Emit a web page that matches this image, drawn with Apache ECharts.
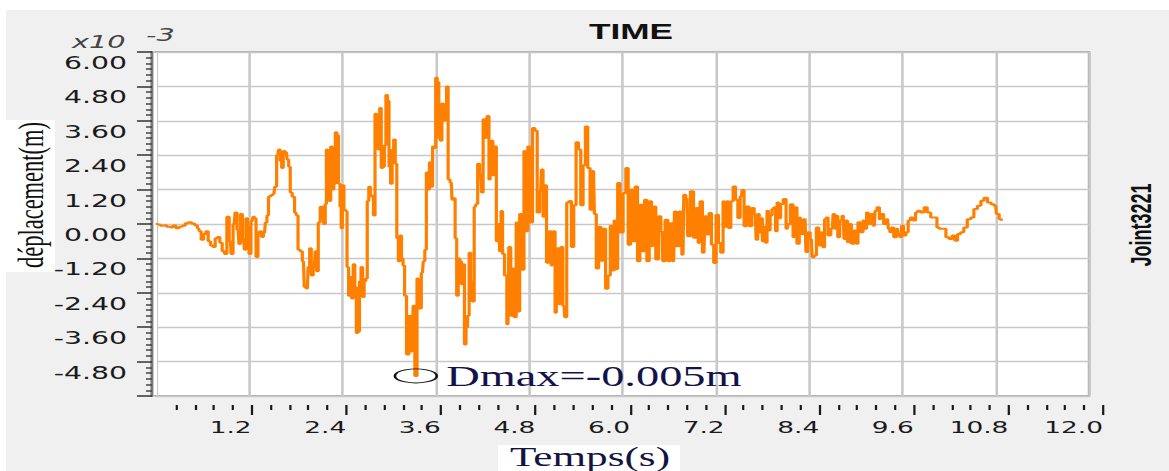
<!DOCTYPE html>
<html>
<head>
<meta charset="utf-8">
<script src="https://cdn.jsdelivr.net/npm/echarts@6/dist/echarts.min.js"></script>
<style>
  html, body { margin: 0; padding: 0; background: #ffffff; }
  /* the plot window is drawn narrow and widened horizontally */
  #chart { width: 730.625px; height: 471px; transform: scaleX(1.6); transform-origin: 0 0; }
</style>
</head>
<body>
<div id="chart"></div>
<script>
// Joint 3221 displacement history, time in seconds, displacement in 1e-3 m
const timeS = [
  0.00,0.04,0.08,0.12,0.16,0.20,0.24,0.28,0.32,0.36,0.40,0.44,0.48,0.52,0.55,
  0.57,0.60,0.63,0.66,0.69,0.72,0.75,0.78,0.81,0.84,0.87,0.90,0.93,0.96,0.98,
  1.01,1.03,1.06,1.08,1.10,1.13,1.15,1.17,1.19,1.21,1.24,1.26,1.28,1.30,1.33,1.35,1.37,1.40,1.42,
  1.44,1.46,1.49,1.52,1.54,1.57,1.59,1.61,1.63,1.65,1.68,1.70,1.72,1.74,1.77,1.80,1.82,
  1.84,1.87,1.90,1.92,1.95,1.97,1.99,2.01,2.04,2.06,2.08,2.10,2.13,2.15,2.17,2.19,
  2.20,2.22,2.24,2.26,2.28,2.30,2.32,2.34,2.36,2.38,2.39,2.41,2.43,2.45,
  2.47,2.49,2.51,2.53,2.55,2.57,2.59,2.61,2.63,2.65,2.67,2.69,2.71,
  2.73,2.75,2.77,2.79,2.81,2.83,2.85,2.87,2.89,2.91,2.93,2.95,2.97,2.99,3.01,3.03,3.05,3.07,3.09,
  3.11,3.13,3.15,3.17,3.19,3.21,3.24,3.27,3.30,3.32,3.345,3.375,3.40,3.43,3.45,3.47,
  3.49,3.51,3.53,3.55,3.57,3.59,3.61,3.63,3.65,3.67,3.69,3.71,3.73,3.75,3.77,3.80,3.82,3.84,3.86,3.88,3.90,3.92,
  3.94,3.96,3.98,4.00,4.02,4.04,4.06,4.08,4.11,4.13,4.15,4.18,4.20,4.22,4.25,4.27,4.30,4.32,4.35,4.37,
  4.39,4.41,4.43,4.45,4.47,4.50,4.53,4.55,4.58,4.60,4.62,4.65,4.67,4.69,4.72,4.75,4.77,4.80,4.83,
  4.86,4.89,4.92,4.95,4.97,4.99,5.01,5.04,5.07,5.10,5.12,5.15,5.17,5.20,5.22,5.25,5.27,
  5.30,5.33,5.36,5.39,5.42,5.45,5.48,5.51,5.54,5.57,5.60,5.63,5.65,5.68,5.71,
  5.74,5.77,5.80,5.83,5.86,5.88,5.91,5.93,5.95,5.99,6.03,6.06,6.09,6.12,6.15,6.18,6.21,6.24,6.27,
  6.30,6.33,6.36,6.39,6.41,6.45,6.48,6.51,6.53,6.57,6.60,6.63,6.66,6.68,6.71,6.75,6.78,6.80,
  6.83,6.85,6.90,6.93,6.96,6.99,7.01,7.05,7.07,7.10,7.13,7.16,7.19,7.22,7.25,7.28,7.31,
  7.33,7.35,7.38,7.41,7.44,7.47,7.50,7.53,7.55,7.58,7.61,7.65,7.68,
  7.71,7.73,7.75,7.77,7.79,7.81,7.83,7.85,7.87,7.89,7.91,7.94,7.96,7.98,8.00,8.02,8.05,8.09,
  8.12,8.14,8.18,8.21,8.23,8.26,8.29,8.31,8.35,8.37,8.40,8.43,8.45,8.48,8.51,
  8.54,8.57,8.59,8.61,8.63,8.66,8.70,8.72,8.74,8.76,8.78,8.81,8.84,8.86,8.88,8.91,8.93,8.96,
  9.00,9.02,9.04,9.08,9.11,9.13,9.15,9.17,9.21,9.24,9.26,9.29,9.32,9.34,9.38,9.41,9.43,9.45,9.47,
  9.51,9.54,9.56,9.58,9.60,9.63,9.66,9.69,9.72,9.75,9.79,9.81,9.86,9.90,9.94,9.99,
  10.03,10.06,10.09,10.14,10.18,10.22,10.26,10.29,10.33,10.37,10.41,10.46,10.50,10.54,10.59,10.63,10.67,10.72,10.76,10.80,10.82,10.87,10.89
];

const dispMm = [
  0.00,-0.02,-0.06,-0.04,-0.10,-0.12,-0.05,-0.15,-0.10,-0.06,0.03,0.06,0.02,-0.04,-0.15,
  -0.25,-0.55,-0.35,-0.25,-0.60,-0.75,-0.80,-0.50,-0.45,-0.65,-0.95,-1.05,0.25,-0.60,-1.05,
  0.00,0.40,-0.20,-0.70,0.35,-0.50,-0.90,0.20,-0.10,-1.05,0.10,0.25,0.20,-1.15,-0.30,-0.25,-0.45,-0.30,0.05,
  0.30,0.95,1.00,1.05,1.30,2.40,2.60,2.20,1.95,2.55,2.50,2.25,2.00,1.10,0.95,0.40,0.30,
  -0.90,-0.95,-1.30,-2.20,-2.25,-1.50,-0.85,-1.80,-1.50,-0.95,-1.65,0.05,0.60,0.60,0.00,0.70,
  2.60,1.00,0.80,2.70,1.20,1.40,3.20,3.10,1.40,0.60,-0.15,1.35,0.50,0.45,
  -1.50,-2.50,-1.85,-2.60,-1.40,-2.20,-3.80,-3.75,-2.00,-1.50,-2.55,-2.00,-1.90,
  0.80,1.30,1.00,0.95,0.30,3.85,3.70,2.60,4.05,1.95,2.00,2.75,4.50,4.30,2.00,1.40,2.60,2.95,2.10,
  -0.50,-1.30,-0.40,-1.20,-1.45,-2.50,-4.55,-3.20,-4.45,-2.85,-5.30,-1.90,-2.95,-1.70,-1.30,-0.90,
  1.80,1.20,2.15,1.30,2.70,2.65,5.10,4.95,3.00,2.90,4.20,3.60,3.70,4.80,1.55,1.45,0.85,0.90,-0.50,-2.50,-1.20,-1.30,
  -2.10,-1.40,-4.20,-3.60,-3.20,-1.00,-2.00,-2.70,0.60,0.70,2.10,1.75,1.10,3.65,3.00,3.77,1.55,2.90,1.70,2.70,
  -0.60,0.00,-0.95,0.45,-1.05,-1.80,-3.50,-0.80,-3.20,-1.55,-3.25,0.05,-3.05,0.35,-1.60,2.55,-0.25,2.70,0.05,
  3.35,3.25,0.40,1.15,1.90,0.25,1.35,-1.35,-0.25,-1.45,-0.25,-3.10,-0.85,-2.80,-0.80,-2.85,-3.25,
  0.75,0.80,-0.80,0.65,2.85,2.60,0.65,2.05,3.40,1.95,0.50,1.85,0.35,-1.55,-0.10,
  -1.28,-0.17,-2.26,-1.80,-0.06,-1.62,0.12,-1.57,1.43,-0.30,1.08,1.95,-0.72,1.20,-0.60,1.31,-1.30,0.67,-0.95,
  0.85,-1.30,0.79,-0.78,0.61,-1.24,0.27,-0.25,-1.30,0.15,-1.30,0.03,-1.30,0.44,-0.78,0.44,-1.07,1.02,
  0.90,-0.43,1.14,-0.48,0.56,-0.66,0.79,-1.00,0.27,-0.37,0.38,-0.72,-1.36,0.32,-0.66,-1.00,0.79,
  -0.10,0.79,-0.14,0.79,1.31,0.85,0.21,0.96,1.19,-0.08,0.61,-0.08,0.56,
  0.35,-0.55,0.35,-0.30,0.20,-0.60,-0.10,-0.65,0.46,-0.23,0.30,0.52,0.58,-0.25,0.75,0.20,0.70,0.87,
  -0.17,0.00,0.69,-0.46,0.58,-0.69,0.23,-0.35,0.17,-0.98,-0.29,-0.52,-1.16,-1.10,-0.12,
  -0.75,-0.29,-0.81,0.17,0.23,-0.40,-0.17,0.35,-0.17,0.29,-0.46,0.12,0.29,-0.52,0.12,-0.64,0.00,-0.69,
  -0.23,-0.69,0.06,-0.29,0.12,-0.17,0.40,0.00,0.35,-0.06,0.46,0.58,0.17,0.35,0.00,0.17,-0.17,-0.29,-0.12,
  -0.46,-0.17,-0.40,-0.46,-0.06,-0.40,-0.29,0.12,0.23,0.12,0.40,0.46,0.40,0.58,0.40,0.23,
  0.23,-0.12,-0.17,-0.17,-0.46,-0.52,-0.40,-0.58,-0.35,-0.29,-0.12,0.17,0.23,0.52,0.64,0.81,0.92,0.75,0.69,0.64,0.35,0.17,0.12
];

// tick labels
const dispTicks = [-4.8, -3.6, -2.4, -1.2, 0, 1.2, 2.4, 3.6, 4.8, 6.0];
const timeTicks = [1.2, 2.4, 3.6, 4.8, 6.0, 7.2, 8.4, 9.6, 10.8, 12.0];

// horizontal stretch of the drawing (see #chart transform)
const SX = 1.6;
const px = v => v / SX;   // page x -> chart x

// page-space layout
const PLOT_L = 155.7, PLOT_R = 1089, PLOT_T = 52, PLOT_B = 396;
const AXIS_X = 152;
const RULER_L = 157, RULER_R = 1103, RULER_Y = 405;

const points = timeS.map((t, i) => [t, dispMm[i]]);
let iMin = 0;
dispMm.forEach((v, i) => { if (v < dispMm[iMin]) iMin = i; });
const dmaxText = 'Dmax=' + (dispMm[iMin] / 1000).toFixed(3) + 'm';

const chart = echarts.init(document.getElementById('chart'), null, { renderer: 'svg' });

chart.setOption({
  animation: false,
  backgroundColor: '#f0f0f0',
  grid: [
    { left: px(PLOT_L), width: px(PLOT_R - PLOT_L), top: PLOT_T, height: PLOT_B - PLOT_T,
      show: true, backgroundColor: '#ffffff', borderColor: '#9a9a9a', borderWidth: 1.5 },
    { left: px(RULER_L), width: px(RULER_R - RULER_L), top: RULER_Y - 1, height: 1, show: false }
  ],
  xAxis: [
    { gridIndex: 0, type: 'value', min: 0, max: 12, interval: 1.2,
      axisLine: { show: false }, axisTick: { show: false }, axisLabel: { show: false },
      splitLine: { show: true, lineStyle: { color: '#c8c8c8', width: 1.6 } } },
    { gridIndex: 1, type: 'value', min: 0, max: 12, interval: 1.2, position: 'bottom',
      axisLine: { show: false, onZero: false },
      axisTick: { show: true, length: 10, customValues: timeTicks,
        lineStyle: { color: '#1a1a1a', width: 1.4 } },
      minorTick: { show: true, splitNumber: 5, length: 5,
        lineStyle: { color: '#1a1a1a', width: 1.4 } },
      axisLabel: { customValues: timeTicks, formatter: v => v.toFixed(1), align: 'right',
        margin: 13.5, fontFamily: 'DejaVu Sans', fontSize: 16.5, color: '#1a1a1a' },
      splitLine: { show: false } }
  ],
  yAxis: [
    { gridIndex: 0, type: 'value', min: -6, max: 6, interval: 1.2, offset: px(PLOT_L - AXIS_X),
      axisLine: { show: true, onZero: false, lineStyle: { color: '#7a7a7a', width: 2 } },
      axisTick: { show: true, length: px(15), lineStyle: { color: '#333333', width: 1.5 } },
      minorTick: { show: true, splitNumber: 6, length: px(6), lineStyle: { color: '#444444', width: 1.5 } },
      axisLabel: { customValues: dispTicks, formatter: v => (v <= -6 ? '' : v.toFixed(2)),
        margin: px(AXIS_X - 127), verticalAlign: 'top', padding: [2, 0, 0, 0],
        fontFamily: 'DejaVu Sans', fontSize: 17.7, color: '#1a1a1a' },
      splitLine: { show: true, lineStyle: { color: '#c8c8c8', width: 1.4 } } },
    { gridIndex: 1, type: 'value', show: false }
  ],
  series: [{
    type: 'line',
    xAxisIndex: 0, yAxisIndex: 0,
    data: points,
    step: 'middle',
    symbol: 'none',
    z: 2,
    lineStyle: { color: '#ff8000', width: 2 },
    itemStyle: { color: '#ff8000' },
    markPoint: {
      silent: true,
      symbol: 'circle',
      symbolSize: [px(42), 14],
      itemStyle: { color: 'rgba(0,0,0,0)', borderColor: '#111111', borderWidth: 1.2 },
      label: { show: true, position: 'right', distance: 5, formatter: dmaxText,
        fontFamily: 'Liberation Serif', fontSize: 29, color: '#13134a' },
      data: [{ coord: [timeS[iMin], dispMm[iMin]], value: dispMm[iMin] }]
    }
  }],
  graphic: [
    { type: 'rect', shape: { x: 0, y: 0, width: px(1169), height: 10 }, style: { fill: '#ffffff' }, silent: true },
    { type: 'rect', shape: { x: 0, y: 0, width: px(6), height: 471 }, style: { fill: '#ffffff' }, silent: true },
    { type: 'rect', shape: { x: px(6), y: 120, width: px(49), height: 152 }, style: { fill: '#ffffff' }, silent: true },
    { type: 'rect', shape: { x: px(498), y: 445, width: px(182), height: 26 }, style: { fill: '#ffffff' }, silent: true },
    { type: 'rect', shape: { x: px(153.6), y: PLOT_T + 1, width: px(PLOT_L + 1.3 - 153.6), height: PLOT_B - PLOT_T - 2 },
      style: { fill: '#ffffff' }, z: 1, silent: true },
    { type: 'text', x: px(631), y: 31, z: 5,
      style: { text: 'TIME', fontFamily: 'Liberation Sans', fontWeight: 'bold', fontSize: 22,
        fill: '#111111', align: 'center', verticalAlign: 'middle' } },
    { type: 'text', x: px(72), y: 42, z: 5,
      style: { text: 'x10', fontFamily: 'DejaVu Sans', fontStyle: 'italic', fontSize: 18,
        fill: '#444444', align: 'left', verticalAlign: 'middle' } },
    { type: 'text', x: px(146), y: 35, z: 5,
      style: { text: '-3', fontFamily: 'DejaVu Sans', fontStyle: 'italic', fontSize: 18,
        fill: '#444444', align: 'left', verticalAlign: 'middle' } },
    { type: 'text', x: px(30), y: 195, rotation: Math.PI / 2, z: 5,
      style: { text: 'déplacement(m)', fontFamily: 'Liberation Serif', fontSize: 22.5,
        fill: '#111111', align: 'center', verticalAlign: 'middle' } },
    { type: 'text', x: px(590), y: 444, z: 5,
      style: { text: 'Temps(s)', fontFamily: 'Liberation Serif', fontSize: 27,
        fill: '#141440', align: 'center', verticalAlign: 'top' } },
    { type: 'text', x: px(1141), y: 225, rotation: Math.PI / 2, z: 5,
      style: { text: 'Joint3221', fontFamily: 'Liberation Sans', fontWeight: 'bold', fontSize: 18,
        fill: '#111111', align: 'center', verticalAlign: 'middle' } }
  ]
});
</script>
</body>
</html>
